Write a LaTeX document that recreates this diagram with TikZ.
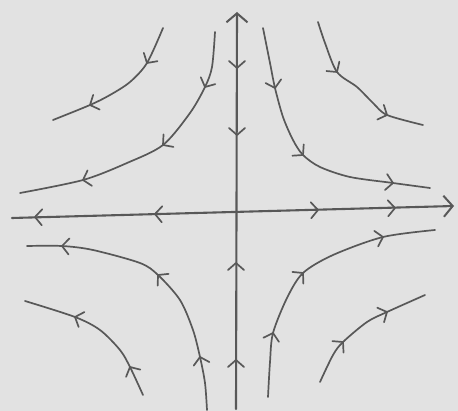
\documentclass[tikz,border=0pt]{standalone}
\usetikzlibrary{arrows.meta}
\definecolor{paper}{RGB}{226,226,226}
\definecolor{ink}{RGB}{88,88,88}
\tikzset{
  inkline/.style={draw=ink, line width=1.7pt, line cap=round, line join=round},
  axisline/.style={inkline, line width=2.1pt},
  axistip/.style={-{Straight Barb[length=9pt,width=21pt,line width=2pt]}},
}
\newcommand\chv[3]{\draw[inkline,shift={(#1,#2)},rotate=#3] (-7,8) -- (0,0) -- (-7,-8);}
\begin{document}
\begin{tikzpicture}[x=1pt,y=-1pt]
\fill[paper] (0,0) rectangle (458,411);
\useasboundingbox (0,0) rectangle (458,411);

% axes
\coordinate (vb) at (236,409);
\coordinate (vt) at (237,12);
\coordinate (hl) at (12,218);
\coordinate (hr) at (454,206);
\draw[axisline, axistip] (vb) -- (vt);
\draw[axisline, axistip] (hl) -- (hr);
\chv{236}{360}{90} \chv{236}{263}{90}
\chv{237}{135}{-90} \chv{237}{68}{-90}
\chv{35}{217}{178} \chv{155}{214}{178}
\chv{318}{210}{2} \chv{395}{208}{2}

% upper left
\draw[inkline] plot[smooth] coordinates {(163,28) (147,63) (130,82) (110,95) (90,105) (53,120)};
\chv{147}{63}{-121.4} \chv{90}{105}{-156.3}
\draw[inkline] plot[smooth] coordinates {(215,32) (212,67) (205,87) (190,113) (163,145) (127,163) (83,180) (20,193)};
\chv{205}{87}{-115.6} \chv{163}{145}{-141.6} \chv{83}{180}{-164.3}

% upper right
\draw[inkline] plot[smooth] coordinates {(263,28) (270,63) (275,88) (283,117) (293,140) (303,155) (320,167) (350,177) (393,183) (430,188)};
\chv{275}{88}{-76.5} \chv{303}{155}{-45} \chv{393}{183}{-7.8}
\draw[inkline] plot[smooth] coordinates {(318,22) (325,43) (337,72) (357,87) (373,103) (387,115) (423,125)};
\chv{337}{72}{-54} \chv{387}{115}{-23.7}

% lower left
\draw[inkline] plot[smooth] coordinates {(207,410) (205,383) (200,357) (193,330) (180,300) (158,275) (140,263) (93,250) (62,246) (27,246)};
\chv{200}{357}{102.8} \chv{158}{275}{137.2} \chv{62}{246}{176.5}
\draw[inkline] plot[smooth] coordinates {(143,395) (130,367) (120,350) (100,330) (75,317) (25,301)};
\chv{130}{367}{117.1} \chv{75}{317}{158.9}

% lower right
\draw[inkline] plot[smooth] coordinates {(268,397) (270,362) (273,333) (287,298) (303,273) (333,255) (383,237) (435,230)};
\chv{273}{333}{75.1} \chv{303}{273}{43.1} \chv{383}{237}{13.8}
\draw[inkline] plot[smooth] coordinates {(320,382) (333,355) (343,342) (367,322) (387,312) (425,295)};
\chv{343}{342}{44.1} \chv{387}{312}{25}
\end{tikzpicture}
\end{document}
